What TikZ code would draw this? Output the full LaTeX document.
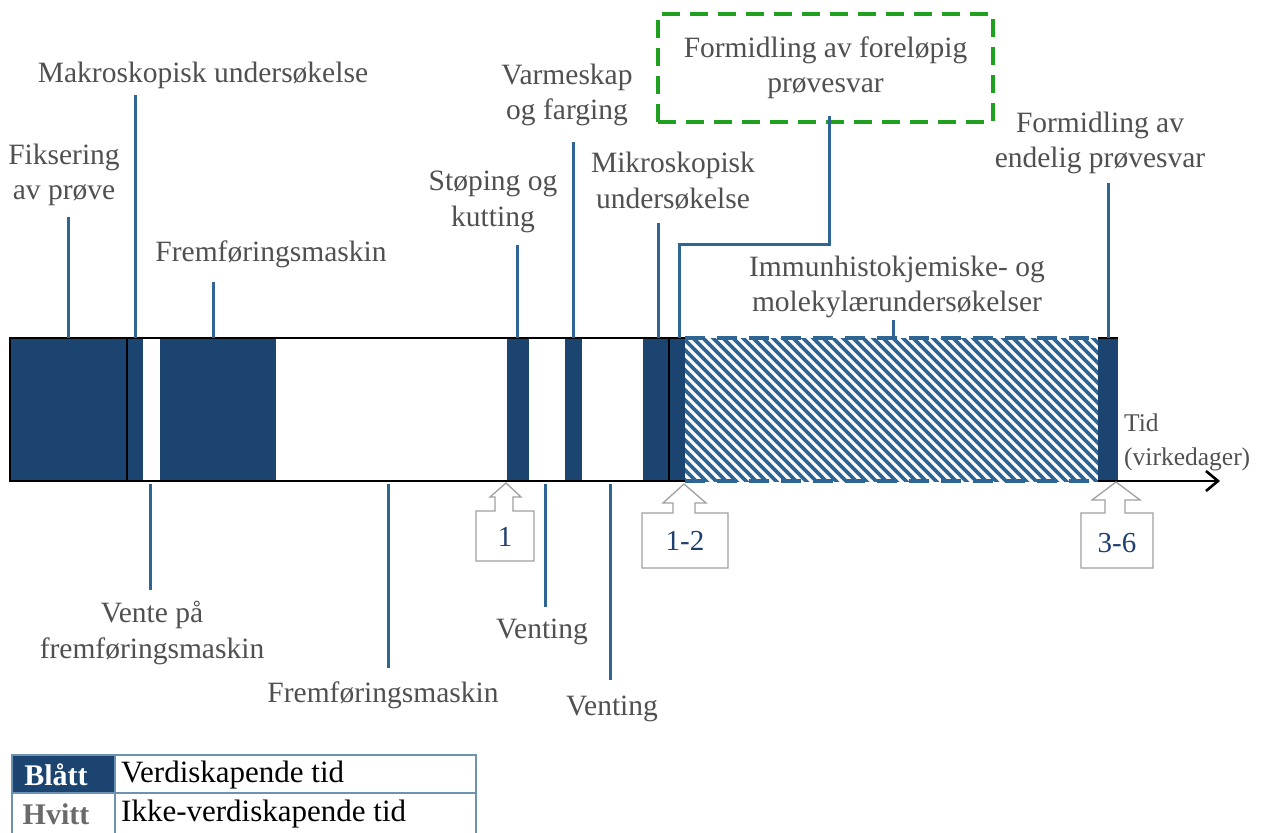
\documentclass[tikz,border=0pt]{standalone}
\usepackage{fontspec}
\setmainfont{Liberation Serif}
\usetikzlibrary{arrows.meta}
\definecolor{barblue}{HTML}{1B4470}
\definecolor{leadblue}{HTML}{2E6592}
\definecolor{txt}{HTML}{505050}
\definecolor{okgreen}{HTML}{1FA01F}
\definecolor{callgray}{HTML}{A0A0A0}
\definecolor{numblue}{HTML}{1F3F6F}
\begin{document}
\begin{tikzpicture}[x=1pt,y=-1pt,
  lbl/.style={font=\fontsize{29.5}{35.5}\selectfont, text=txt, align=center, inner sep=0pt},
  lead/.style={draw=leadblue, line width=3pt},
  num/.style={font=\fontsize{29}{34}\selectfont, text=numblue, inner sep=0pt},
  callout/.style={draw=callgray, line width=1.3pt, fill=white, line join=miter},
  legend/.style={draw=leadblue!70, line width=1.2pt}]
\clip (0,0) rectangle (1265,832);

% value-adding blocks on the time bar
\fill[barblue] (10,338) rectangle (127,481);
\fill[barblue] (127,338) rectangle (143,481);
\fill[barblue] (160,338) rectangle (276,481);
\fill[barblue] (507,338) rectangle (529,481);
\fill[barblue] (565,338) rectangle (582,481);
\fill[barblue] (643,338) rectangle (685,481);
\fill[barblue] (1098,338) rectangle (1118,481);

% hatched stretch for the extra examinations
\begin{scope}
  \clip (685,338) rectangle (1098,481);
  \foreach \k in {-160,-150,...,420}
    \draw[leadblue, line width=3.6pt] ({685+\k},330) -- ++(160,160);
\end{scope}
\draw[leadblue, line width=4.5pt, dash pattern=on 20pt off 12pt] (685,338) -- (1098,338);
\draw[leadblue, line width=4.5pt, dash pattern=on 20pt off 12pt] (685,481) -- (1098,481);

% bar outline and time axis
\draw[line width=2.6pt] (685,338) -- (10,338) -- (10,481) -- (685,481);
\draw[line width=2pt] (127,338) -- (127,481);
\draw[line width=2pt] (669,338) -- (669,481);
\draw[line width=2.6pt] (1098,338) -- (1118,338);
\draw[line width=2.6pt, -{Straight Barb[length=12pt,width=20pt]}] (1098,481) -- (1220,481);

% labels above the bar
\node[lbl] (fiks) at (64,175) {Fiksering\\av prøve};
\node[lbl] (makro) at (203,75) {Makroskopisk undersøkelse};
\node[lbl] (fremA) at (271,254) {Fremføringsmaskin};
\node[lbl] (stop) at (493,202) {Støping og\\kutting};
\node[lbl] (varme) at (567,95) {Varmeskap\\og farging};
\node[lbl] (mikro) at (673,181) {Mikroskopisk\\undersøkelse};
\node[lbl, draw=okgreen, line width=3.5pt, dash pattern=on 18pt off 10pt,
      minimum width=335pt, minimum height=108pt] (forel) at (825.5,68)
      {Formidling av foreløpig\\prøvesvar};
\node[lbl] (endel) at (1100,143) {Formidling av\\endelig prøvesvar};
\node[lbl] (immun) at (897,287) {Immunhistokjemiske- og\\molekylærundersøkelser};
\node[lbl, font=\fontsize{25.5}{34}\selectfont, align=left, anchor=west] (tid) at (1124,442)
      {Tid\\(virkedager)};

% labels below the bar
\node[lbl] (vente) at (152,633) {Vente på\\fremføringsmaskin};
\node[lbl] (fremB) at (383,695) {Fremføringsmaskin};
\node[lbl] (ventA) at (542,632) {Venting};
\node[lbl] (ventB) at (612,709) {Venting};

% leader line end points
\coordinate (fiksT) at (68,217);   \coordinate (fiksB) at (68,338);
\coordinate (makroT) at (135,95);  \coordinate (makroB) at (135,338);
\coordinate (fremAT) at (213,282); \coordinate (fremAB) at (213,338);
\coordinate (stopT) at (517,245);  \coordinate (stopB) at (517,338);
\coordinate (varmeT) at (573,142); \coordinate (varmeB) at (573,338);
\coordinate (mikroT) at (658,223); \coordinate (mikroB) at (658,338);
\coordinate (forelT) at (829,116); \coordinate (forelB) at (679,338);
\coordinate (immunT) at (893,320); \coordinate (immunB) at (893,338);
\coordinate (endelT) at (1108,183); \coordinate (endelB) at (1108,338);
\coordinate (venteT) at (150,484); \coordinate (venteB) at (150,590);
\coordinate (fremBT) at (388,484); \coordinate (fremBB) at (388,668);
\coordinate (ventAT) at (545,484); \coordinate (ventAB) at (545,607);
\coordinate (ventBT) at (610,484); \coordinate (ventBB) at (610,680);

\draw[lead] (fiksT) -- (fiksB);
\draw[lead] (makroT) -- (makroB);
\draw[lead] (fremAT) -- (fremAB);
\draw[lead] (stopT) -- (stopB);
\draw[lead] (varmeT) -- (varmeB);
\draw[lead] (mikroT) -- (mikroB);
\draw[lead] (forelT) |- (679,244) -- (forelB);
\draw[lead] (immunT) -- (immunB);
\draw[lead] (endelT) -- (endelB);
\draw[lead] (venteT) -- (venteB);
\draw[lead] (fremBT) -- (fremBB);
\draw[lead] (ventAT) -- (ventAB);
\draw[lead] (ventBT) -- (ventBB);

% day markers under the axis
\draw[callout] (506,483) -- (521,497) -- (513,497) -- (513,511) -- (534,511) -- (534,561)
  -- (476,561) -- (476,511) -- (495,511) -- (495,497) -- (490,497) -- cycle;
\node[num] (d1) at (505,537) {1};
\draw[callout] (684,484) -- (706,503) -- (695,503) -- (695,513) -- (728,513) -- (728,568)
  -- (642,568) -- (642,513) -- (673,513) -- (673,503) -- (663,503) -- cycle;
\node[num] (d12) at (685,541) {1-2};
\draw[callout] (1116,482) -- (1140,500) -- (1125,500) -- (1125,513) -- (1153,513) -- (1153,568)
  -- (1081,568) -- (1081,513) -- (1105,513) -- (1105,500) -- (1092,500) -- cycle;
\node[num] (d36) at (1117,543) {3-6};

% legend
\fill[barblue] (12,755) rectangle (115,793);
\draw[legend] (12,755) rectangle (476,834);
\draw[legend] (12,793) -- (476,793);
\draw[legend] (115,755) -- (115,834);
\node[font=\fontsize{30}{34}\selectfont\bfseries, text=white, inner sep=0pt] (blue) at (56,775) {Blått};
\node[font=\fontsize{30}{34}\selectfont\bfseries, text=txt!85, inner sep=0pt] (white) at (56,814) {Hvitt};
\node[font=\fontsize{31}{34}\selectfont, anchor=west, inner sep=0pt] (bluetxt) at (121,775) {Verdiskapende tid};
\node[font=\fontsize{31}{34}\selectfont, anchor=west, inner sep=0pt] (whitetxt) at (121,814) {Ikke-verdiskapende tid};
\end{tikzpicture}
\end{document}
